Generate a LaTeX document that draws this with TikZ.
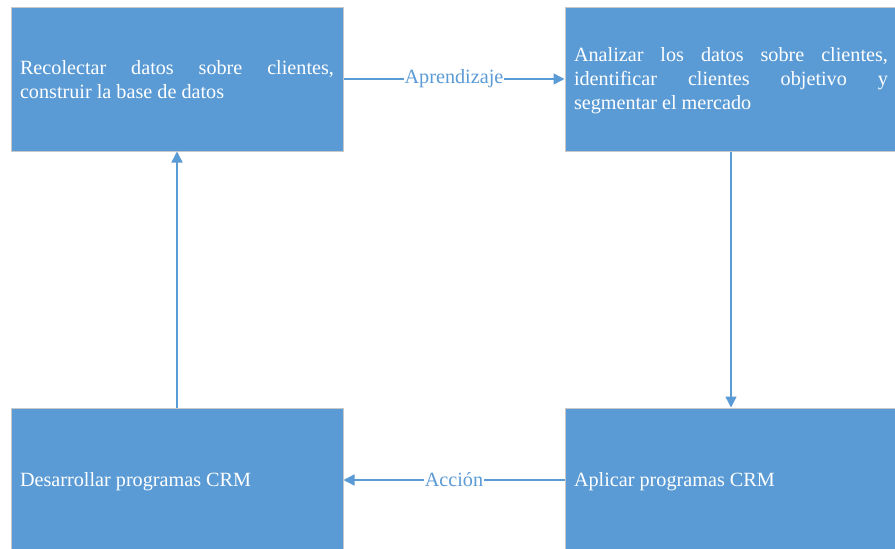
\documentclass[tikz,border=0pt]{standalone}
\usepackage{fontspec}
\setmainfont{Liberation Serif}
\usepackage{xcolor}
\usepackage{tikz}
\usetikzlibrary{arrows.meta}
\definecolor{boxblue}{HTML}{5B9BD5}
\definecolor{boxedge}{HTML}{C8C8C8}
\tikzset{every node/.append style={font=\fontsize{20.2}{24}\selectfont}}
\tikzset{
  crmbox/.style={draw=boxedge,line width=1pt,fill=boxblue,text=white,
    minimum width=332pt,minimum height=144pt,inner xsep=9pt,
    text width=314pt,align=justify,text height=18pt,
    execute at end node={\rule[-4pt]{0pt}{4pt}}},
  flowarrow/.style={->,draw=boxblue,line width=1.5pt},
  flowlabel/.style={fill=white,text=boxblue,inner xsep=1pt,inner ysep=2pt}
}

\begin{document}
\begin{tikzpicture}[x=1pt,y=-1pt,>={Triangle[length=11pt,width=11pt]}]
  \clip (0,0) rectangle (895,549);
  \fill[white] (0,0) rectangle (895,549);
  \node[crmbox] (collect) at (177,79)
    {Recolectar datos sobre clientes,\linebreak construir la base de datos};
  \node[crmbox] (analyze) at (731,79)
    {Analizar los datos sobre clientes,\linebreak identificar clientes objetivo y\linebreak segmentar el mercado};
  \node[crmbox] (develop) at (177,480) {Desarrollar programas CRM};
  \node[crmbox] (apply) at (731,480) {Aplicar programas CRM};
  \draw[flowarrow] (collect) -- node[flowlabel] {Aprendizaje} (analyze);
  \draw[flowarrow] (analyze) -- (apply);
  \draw[flowarrow] (apply) -- node[flowlabel] {Acción} (develop);
  \draw[flowarrow] (develop) -- (collect);
\end{tikzpicture}
\end{document}
